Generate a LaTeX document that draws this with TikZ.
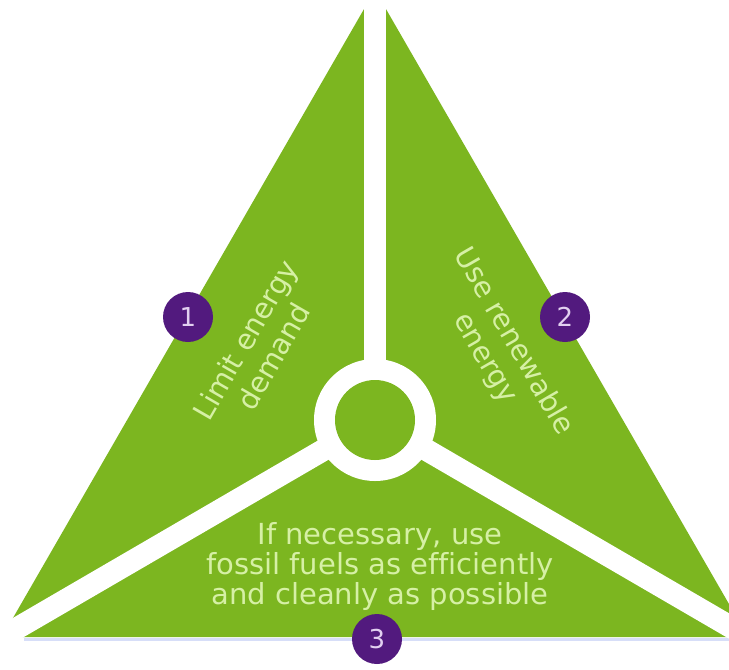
\documentclass[tikz,border=0pt]{standalone}
\usepackage{fontspec}
\usetikzlibrary{calc}
\setmainfont[Ligatures=NoCommon]{DejaVu Sans}
\definecolor{leaf}{RGB}{124,182,32}
\definecolor{plum}{RGB}{82,26,126}
\definecolor{paletext}{RGB}{214,240,165}
\definecolor{numtext}{RGB}{226,208,240}
\definecolor{baseglow}{RGB}{215,222,248}
\tikzset{
  gapbar/.style={draw=white,line width=22pt},
  badge/.style={circle,fill=plum,minimum size=50pt,inner sep=0pt,text=numtext,font=\fontsize{26}{28}\selectfont},
  label/.style={text=paletext,align=center,inner sep=0pt,font=\fontsize{28.5}{33}\selectfont},
}
\begin{document}
\begin{tikzpicture}[x=1pt,y=-1pt]
\useasboundingbox (0,0) rectangle (729,670);
\fill[white] (0,0) rectangle (729,670);
\coordinate (A) at (375,-10);
\coordinate (BL) at (2,637);
\coordinate (BR) at (748,637);
\coordinate (C) at (375,420);
% faint glow under base
\draw[draw=baseglow,line width=3pt] (24,639.5) -- (729,639.5);
% triangle
\fill[leaf] (A) -- (BL) -- (BR) -- cycle;
% separators
\draw[gapbar] (C) -- ($(C)!1.05!(A)$);
\draw[gapbar] (C) -- ($(C)!1.05!(BL)$);
\draw[gapbar] (C) -- ($(C)!1.05!(BR)$);
\fill[white] (C) circle[radius=61];
\fill[leaf] (C) circle[radius=40];
% labels
\node[label,rotate=60] (t1) at (259,348) {Limit energy\\demand};
\node[label,rotate=-60] (t2) at (499,350) {Use renewable\\energy};
\node[label,font=\fontsize{29}{30}\selectfont] (t3) at (380,566) {If necessary, use\\fossil fuels as efficiently\\and cleanly as possible};
% badges
\node[badge] (n1) at (188,317) {1};
\node[badge] (n2) at (565,317) {2};
\node[badge] (n3) at (377,639) {3};
\end{tikzpicture}
\end{document}
